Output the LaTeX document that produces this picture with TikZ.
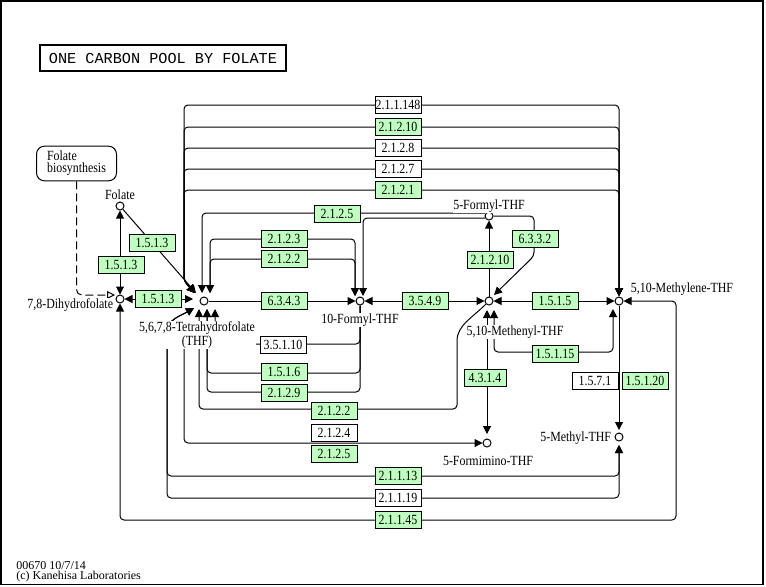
\documentclass[tikz,border=0pt]{standalone}
\usepackage{fontspec}
\setmainfont{Liberation Serif}
\newfontfamily\titlefont{Liberation Mono}
\usepackage{graphicx}
\usetikzlibrary{arrows.meta,calc}
\definecolor{kgreen}{HTML}{BFFFBF}
\newcommand{\ktx}[1]{\scalebox{0.85}[1]{#1}}
\newcommand{\kgfont}{\fontsize{10.5}{9}\selectfont}
\pgfdeclarelayer{bg}
\pgfsetlayers{bg,main}
\tikzset{
  ln/.style={line width=0.75pt, rounded corners=3pt},
  >={Triangle[length=6pt,width=6pt]},
  ez/.style={draw, line width=0.75pt, minimum width=34.5pt, minimum height=12.75pt, inner sep=0pt, font=\kgfont},
  gz/.style={ez, fill=kgreen},
  wz/.style={ez, fill=white},
  cp/.style={circle, draw, fill=white, line width=0.75pt, minimum size=6pt, inner sep=0pt},
  lb/.style={font=\kgfont, inner sep=0.5pt, fill=white},
}
\begin{document}
\begin{tikzpicture}[x=0.75pt,y=-0.75pt]
\useasboundingbox (0,0) rectangle (766,586);
\draw[line width=1.2pt] (0.8,0.8) rectangle (763,584.5);

% title
\node[draw, line width=1.9pt, minimum width=184.5pt, minimum height=19.5pt, inner sep=0pt,
      font=\titlefont\fontsize{11.4}{12}\selectfont] (title) at (163,58) {ONE CARBON POOL BY FOLATE};

% map link
\node[draw, rounded corners=6pt, line width=0.75pt, minimum width=60pt, minimum height=26pt,
      align=left, inner sep=0pt, font=\kgfont] (fb) at (76.5,163.5) {\ktx{Folate}\\\ktx{biosynthesis}};

% compounds
\node[cp] (fol) at (120,206) {};
\node[cp] (dhf) at (120,299) {};
\node[cp] (thf) at (204,301) {};
\node[cp] (fthf) at (360,301) {};
\node[cp] (ffthf) at (489,216) {};
\node[cp] (men) at (489,301) {};
\node[cp] (mel) at (619,301) {};
\node[cp] (meth) at (619,437) {};
\node[cp] (fim) at (487,443) {};

% compound labels
\node[lb] (lfol) at (120,195) {\ktx{Folate}};
\node[lb, anchor=east] (ldhf) at (114,305) {\ktx{7,8-Dihydrofolate}};
\node[lb, align=center, font=\fontsize{10.5}{10.5}\selectfont] (lthf) at (197,335) {\ktx{5,6,7,8-Tetrahydrofolate}\\\ktx{(THF)}};
\node[lb] (lfthf) at (360,320) {\ktx{10-Formyl-THF}};
\node[lb] (lffthf) at (489,206) {\ktx{5-Formyl-THF}};
\node[lb] (lmen) at (515,332) {\ktx{5,10-Methenyl-THF}};
\node[lb, anchor=west] (lmel) at (630,289) {\ktx{5,10-Methylene-THF}};
\node[lb, anchor=east] (lmeth) at (612,438) {\ktx{5-Methyl-THF}};
\node[lb] (lfim) at (488,461) {\ktx{5-Formimino-THF}};

% enzymes
\node[wz] (e1) at (398,105) {\ktx{2.1.1.148}};
\node[gz] (e2) at (398,127) {\ktx{2.1.2.10}};
\node[wz] (e3) at (398,148) {\ktx{2.1.2.8}};
\node[wz] (e4) at (398,169) {\ktx{2.1.2.7}};
\node[gz] (e5) at (398,190) {\ktx{2.1.2.1}};
\node[gz] (e6) at (337,214) {\ktx{2.1.2.5}};
\node[gz] (e7) at (284,239) {\ktx{2.1.2.3}};
\node[gz] (e8) at (284,259) {\ktx{2.1.2.2}};
\node[gz] (e9) at (152,243) {\ktx{1.5.1.3}};
\node[gz] (e10) at (121,265) {\ktx{1.5.1.3}};
\node[gz] (e11) at (158,299) {\ktx{1.5.1.3}};
\node[gz] (e12) at (284,301) {\ktx{6.3.4.3}};
\node[gz] (e13) at (425,301) {\ktx{3.5.4.9}};
\node[gz] (e14) at (555,301) {\ktx{1.5.1.5}};
\node[gz] (e15) at (490,260) {\ktx{2.1.2.10}};
\node[gz] (e16) at (535,239) {\ktx{6.3.3.2}};
\node[wz] (e17) at (283,345) {\ktx{3.5.1.10}};
\node[gz] (e18) at (284,372) {\ktx{1.5.1.6}};
\node[gz] (e19) at (284,393) {\ktx{2.1.2.9}};
\node[gz] (e20) at (334,411) {\ktx{2.1.2.2}};
\node[wz] (e21) at (334,433) {\ktx{2.1.2.4}};
\node[gz] (e22) at (334,454) {\ktx{2.1.2.5}};
\node[gz] (e23) at (555,354) {\ktx{1.5.1.15}};
\node[gz, minimum width=31.5pt] (e24) at (485,378) {\ktx{4.3.1.4}};
\node[wz] (e25) at (595,381) {\ktx{1.5.7.1}};
\node[gz] (e26) at (645,381) {\ktx{1.5.1.20}};
\node[gz] (e27) at (398,476) {\ktx{2.1.1.13}};
\node[wz] (e28) at (398,498) {\ktx{2.1.1.19}};
\node[gz] (e29) at (398,520) {\ktx{2.1.1.45}};

% footer
\node[anchor=west, align=left, inner sep=0pt, font=\fontsize{9}{7.6}\selectfont] (foot) at (16,571.5)
  {00670 10/7/14\\(c) Kanehisa Laboratories};

\begin{pgfonlayer}{bg}
% top bundle THF <-> 5,10-methylene-THF
\foreach \yy in {105,127,148,169,190} {
  \draw[ln,<->] ($(thf)+(-9,-8)$) -- (184,281) -- (184,\yy) -- (619,\yy) -- ($(mel)+(0,-5)$);
}
% 2.1.2.5 upper
\draw[ln,<-] ($(thf)+(-2,-8)$) -- (202,213) -- ($(ffthf)+(-4,-3)$);
% 5-formyl -> 10-formyl
\draw[ln,->] ($(ffthf)+(-4,2)$) -- (363,218) -- ($(fthf)+(3,-5)$);
% 2.1.2.3 / 2.1.2.2
\foreach \yy in {239,259} {
  \draw[ln,<->] ($(thf)+(6,-8)$) -- (210,\yy) -- (355,\yy) -- ($(fthf)+(-5,-5)$);
}
% folate / DHF / THF
\draw[ln,->] (fol) -- ($(thf)+(-8,-8)$);
\draw[ln,<->] (fol) -- (dhf);
\draw[ln,<->] (dhf) -- ($(thf)+(-11,-2)$);
\draw[line width=0.75pt, rounded corners=4pt, dash pattern=on 6pt off 3pt,
      -{Triangle[open,length=6pt,width=6pt]}] (fb.south) -- (76.5,295) -- ($(dhf)+(-5,-4)$);
% main row
\draw[ln,->] (thf) -- (fthf);
\draw[ln,<->] (fthf) -- (men);
\draw[ln,<->] (men) -- (mel);
\draw[ln,->] (men) -- (ffthf);
\draw[ln,->] (ffthf.east) -- (534,216) -- (534,256) -- ($(men)+(5,-6)$);
% 10-formyl -> THF (below)
\draw[ln,->] (fthf) -- (360,344) -- (215,344) -- ($(thf)+(11,8)$);
\draw[ln,->] (fthf) -- (360,373) -- (207,373) -- ($(thf)+(3,8)$);
\draw[ln,->] (fthf) -- (360,392) -- (207,392) -- ($(thf)+(3,8)$);
% 2.1.2.2 lower
\draw[ln,->] (men) to[out=225,in=90] (457,345) -- (457,409) -- (199,409) -- ($(thf)+(-5,8)$);
% THF -> 5-formimino
\draw[ln,->] ($(thf)+(-20,38)$) -- (184,443) -- (fim);
% methyl bundle
\foreach \yy in {476,498} {
  \draw[ln,<->] ($(thf)+(-10,7)$) to[out=210,in=90] (167,335) -- (167,\yy) -- (619,\yy) -- ($(meth)+(0,8)$);
}
\draw[ln,<->] (dhf) -- (120,520) -- (676,520) -- (676,301) -- (mel);
\draw[ln,->] (mel) -- ($(meth)+(0,-7)$);
% methenyl <-> formimino
\draw[ln,<->] ($(men)+(-2,9)$) -- ($(fim)+(0,-9)$);
% 1.5.1.15
\draw[ln,<->] ($(men)+(5,9)$) -- (494,352) -- (613,352) -- ($(mel)+(-6,8)$);
\end{pgfonlayer}
\end{tikzpicture}
\end{document}
